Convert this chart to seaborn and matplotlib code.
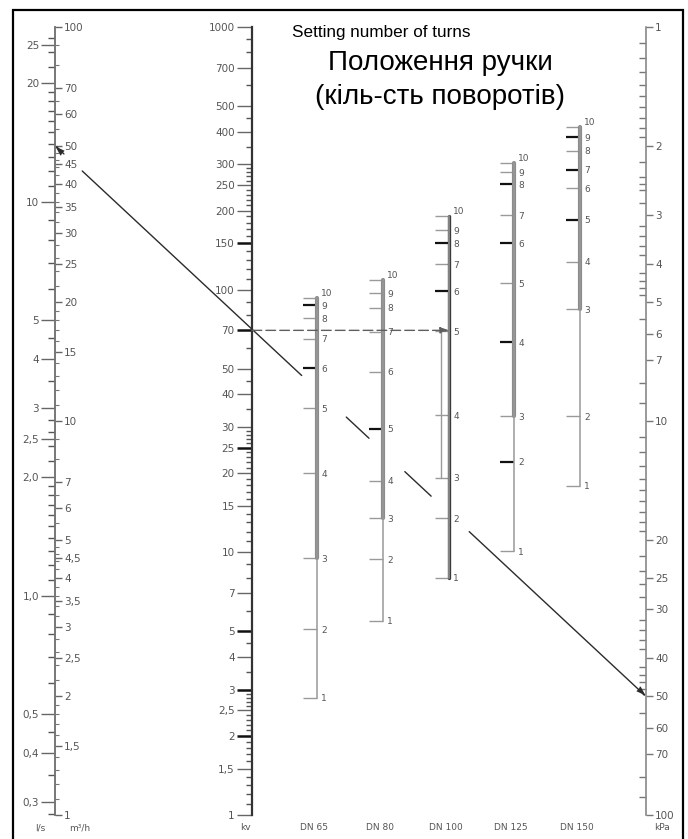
import seaborn as sns
import matplotlib.pyplot as plt
from matplotlib.patches import ConnectionPatch, Rectangle
from matplotlib.ticker import LogLocator, NullFormatter, NullLocator

# ===============================
# 1. DATA
# ===============================
settings = [1, 2, 3, 4, 5, 6, 7, 8, 9, 10]

# kv (m3/h) at each handle setting, per valve size
kv_dn65 = [2.8, 5.1, 9.5, 20.0, 35.4, 50.3, 64.9, 78.0, 87.4, 92.9]
kv_dn80 = [5.5, 9.4, 13.5, 18.7, 29.5, 48.6, 69.0, 85.2, 97.1, 108.8]
kv_dn100 = [8.0, 13.5, 19.2, 33.3, 69.6, 98.8, 125.2, 150.5, 168.7, 190.7]
kv_dn125 = [10.1, 22.1, 33.0, 63.2, 106.0, 150.5, 192.4, 252.5, 280.5, 303.5]
kv_dn150 = [17.9, 33.0, 84.4, 127.5, 184.2, 243.8, 285.5, 337.3, 381.2, 416.2]

# flow scale
flow_ls = [25, 20, 10, 5, 4, 3, 2.5, 2, 1, 0.5, 0.4, 0.3]
flow_ls_labels = ["25", "20", "10", "5", "4", "3", "2,5", "2,0", "1,0", "0,5", "0,4", "0,3"]
flow_m3h = [100, 70, 60, 50, 45, 40, 35, 30, 25, 20, 15, 10, 7, 6, 5, 4.5, 4, 3.5, 3, 2.5, 2, 1.5, 1]
flow_m3h_labels = ["100", "70", "60", "50", "45", "40", "35", "30", "25", "20", "15", "10",
                   "7", "6", "5", "4,5", "4", "3,5", "3", "2,5", "2", "1,5", "1"]

# kv scale
kv_ticks = [1000, 700, 500, 400, 300, 250, 200, 150, 100, 70, 50, 40, 30, 25, 20, 15,
            10, 7, 5, 4, 3, 2.5, 2, 1.5, 1]
kv_labels = ["1000", "700", "500", "400", "300", "250", "200", "150", "100", "70", "50",
             "40", "30", "25", "20", "15", "10", "7", "5", "4", "3", "2,5", "2", "1,5", "1"]

# pressure drop scale
dp_ticks = [1, 2, 3, 4, 5, 6, 7, 10, 20, 25, 30, 40, 50, 60, 70, 100]

# worked example
ex_flow = 50    # m3/h
ex_kv = 70
ex_dp = 50      # kPa

# ===============================
# 2. STYLE / LAYOUT
# ===============================
sns.set_theme(style="ticks")
plt.rcParams["font.family"] = ["DejaVu Sans"]

W, H = 688, 839
TOP, BOT = 27, 815
NUM = "#555555"
GREY = "#8c8c8c"


def fx(px):
    return px / W


def fy(py):
    return 1 - py / H


fig = plt.figure(figsize=(W / 100, H / 100), dpi=100)
fig.patch.set_facecolor("white")


def column(x_px, side, width_px=30):
    left = x_px - width_px if side == "right" else x_px
    ax = fig.add_axes([fx(left), fy(BOT), fx(width_px), (BOT - TOP) / H])
    ax.patch.set_visible(False)
    for s in ax.spines.values():
        s.set_visible(False)
    ax.spines[side].set_visible(True)
    ax.set_xticks([])
    ax.set_yscale("log")
    if side == "right":
        ax.yaxis.tick_right()
    else:
        ax.yaxis.tick_left()
    ax.yaxis.set_minor_formatter(NullFormatter())
    ax.tick_params(axis="y", which="both", labelsize=7.5, labelcolor=NUM, pad=1.5)
    return ax


sub_fine = [1.1, 1.2, 1.3, 1.4, 1.6, 1.7, 1.8, 1.9, 2.2, 2.4, 2.6, 2.8,
            3.2, 3.4, 3.6, 3.8, 4.2, 4.4, 4.6, 4.8, 5.5, 6.5, 8, 9]
sub_kv = [1.1, 1.2, 1.3, 1.4, 1.6, 1.7, 1.8, 1.9, 2.1, 2.2, 2.3, 2.4,
          2.6, 2.7, 2.8, 2.9, 3.5, 4.5, 6, 8, 9]
sub_ls = [1.1, 1.2, 1.3, 1.4, 1.5, 1.6, 1.7, 1.8, 1.9, 2.2, 2.4, 2.6, 2.8,
          3.5, 4.5, 6, 7, 8, 9]
sub_dp = [1.1, 1.2, 1.3, 1.4, 1.5, 1.6, 1.7, 1.8, 1.9, 2.2, 2.4, 2.5, 2.6, 2.8,
          3.2, 3.4, 3.6, 3.8, 4.2, 4.4, 4.6, 4.8, 5.5, 8, 9]

# ===============================
# 3. FLOW SCALE (m3/h right, l/s left)
# ===============================
ax_m3 = column(55, "right")
ax_m3.set_xlim(0, 1)
ax_m3.set_ylim(1, 100)
ax_m3.spines["right"].set_color("#777777")
ax_m3.spines["right"].set_linewidth(1.2)
ax_m3.set_yticks(flow_m3h, labels=flow_m3h_labels)
ax_m3.yaxis.set_minor_locator(LogLocator(base=10, subs=sub_fine))
ax_m3.tick_params(axis="y", which="major", direction="out", length=5, width=1, color="#666666")
ax_m3.tick_params(axis="y", which="minor", direction="out", length=3, width=0.8, color="#777777")

ax_ls = column(55, "left")
ax_ls.set_xlim(0, 1)
ax_ls.set_ylim(1 / 3.6, 100 / 3.6)
ax_ls.spines["left"].set_color("#777777")
ax_ls.spines["left"].set_linewidth(1.2)
ax_ls.set_yticks(flow_ls, labels=flow_ls_labels)
ax_ls.yaxis.set_minor_locator(LogLocator(base=10, subs=sub_ls))
ax_ls.tick_params(axis="y", which="major", direction="out", length=10, width=1, color="#666666")
ax_ls.tick_params(axis="y", which="minor", direction="out", length=5, width=1, color="#555555")

# ===============================
# 4. KV SCALE
# ===============================
ax_kv = column(252, "left")
ax_kv.set_xlim(0, 1)
ax_kv.set_ylim(1, 1000)
ax_kv.spines["left"].set_color("#333333")
ax_kv.spines["left"].set_linewidth(1.6)
ax_kv.set_yticks(kv_ticks, labels=kv_labels)
ax_kv.yaxis.set_minor_locator(LogLocator(base=10, subs=sub_kv))
ax_kv.tick_params(axis="y", which="major", direction="out", length=11, width=1, color="#666666")
ax_kv.tick_params(axis="y", which="minor", direction="out", length=4, width=1, color="#555555")
for val, t in zip(kv_ticks, ax_kv.yaxis.get_major_ticks()):
    if val in (150, 70, 25, 5, 3, 2):
        t.tick1line.set_markeredgecolor("#111111")
        t.tick1line.set_markeredgewidth(1.8)

# ===============================
# 5. VALVE SETTING SCALES
# ===============================
valves = [
    ("DN 65", 317, kv_dn65, 2, [9, 6]),
    ("DN 80", 383, kv_dn80, 2, [5]),
    ("DN 100", 449, kv_dn100, 0, [8, 6]),
    ("DN 125", 514, kv_dn125, 2, [8, 6, 4, 2]),
    ("DN 150", 580, kv_dn150, 2, [9, 7, 5]),
]
dn_axes = {}
for name, xpx, kv, thick_from, bold in valves:
    ax = column(xpx, "right", width_px=20)
    ax.set_xlim(0, 1)
    ax.spines["right"].set_bounds(kv[0], kv[-1])
    ax.spines["right"].set_color("#999999")
    ax.spines["right"].set_linewidth(1.1)
    sns.lineplot(x=[1.0, 1.0], y=[kv[thick_from], kv[-1]], ax=ax, orient="y",
                 estimator=None, color="#3a3a3a" if name == "DN 100" else GREY,
                 linewidth=3 if name != "DN 100" else 2.4, clip_on=False)
    ax.set_ylim(1, 1000)
    ax.set_yticks(kv, labels=[str(s) for s in settings])
    ax.yaxis.set_minor_locator(NullLocator())
    ax.tick_params(axis="y", which="major", direction="in", length=10, width=1,
                   color="#9a9a9a", labelsize=6.5, pad=3)
    ticks = ax.yaxis.get_major_ticks()
    for s, t in zip(settings, ticks):
        if s in bold:
            t.tick2line.set_markeredgecolor("#111111")
            t.tick2line.set_markeredgewidth(1.6)
    # the top "10" sits just above its tick, as on the printed chart
    ticks[-1].label2.set_verticalalignment("bottom")
    ax.set_xlabel("")
    ax.set_ylabel("")
    dn_axes[name] = ax
    fig.text(fx(xpx - 3), fy(828), name, ha="center", va="center", fontsize=6.5, color=NUM)

# inner bracket on DN 100 between settings 3 and 5
ax100 = dn_axes["DN 100"]
ax100.plot([0.62, 0.62], [kv_dn100[2], kv_dn100[4]], color="#9a9a9a", lw=1, clip_on=False)

# ===============================
# 6. PRESSURE DROP SCALE
# ===============================
ax_dp = column(646, "right")
ax_dp.set_xlim(0, 1)
ax_dp.set_ylim(100, 1)
ax_dp.spines["right"].set_color("#888888")
ax_dp.spines["right"].set_linewidth(1.2)
ax_dp.set_yticks(dp_ticks, labels=[str(v) for v in dp_ticks])
ax_dp.yaxis.set_minor_locator(LogLocator(base=10, subs=sub_dp))
ax_dp.tick_params(axis="y", which="major", direction="out", length=5, width=1, color="#777777")
ax_dp.tick_params(axis="y", which="minor", direction="in", length=5, width=1, color="#777777")

# ===============================
# 7. WORKED EXAMPLE LINES
# ===============================
pt = 0.72  # points per pixel
solution = ConnectionPatch(
    xyA=(1, ex_flow), coordsA=ax_m3.transData,
    xyB=(1, ex_dp), coordsB=ax_dp.transData,
    arrowstyle="<|-|>,head_length=0.6,head_width=0.2",
    color="#2b2b2b", lw=1.0,
    linestyle=(0, (10 * pt, 25 * pt, 300 * pt, 61 * pt, 31 * pt, 49 * pt,
                   36 * pt, 52 * pt, 260 * pt, 5 * pt)),
)
fig.add_artist(solution)

kv_line = ConnectionPatch(
    xyA=(0, ex_kv), coordsA=ax_kv.transData,
    xyB=(1, ex_kv), coordsB=ax100.transData,
    arrowstyle="-|>,head_length=0.5,head_width=0.18",
    color="#5e5e5e", lw=1, linestyle=(0, (7, 3)),
)
fig.add_artist(kv_line)

# ===============================
# 8. TEXT AND FRAME
# ===============================
fig.text(fx(40), fy(828), "l/s", ha="center", va="center", fontsize=6.5, color=NUM)
fig.text(fx(80), fy(828), "m³/h", ha="center", va="center", fontsize=6.5, color=NUM)
fig.text(fx(245), fy(828), "kv", ha="center", va="center", fontsize=6.5, color=NUM)
fig.text(fx(662), fy(828), "kPa", ha="center", va="center", fontsize=6.5, color=NUM)

title_font = ["Liberation Sans", "DejaVu Sans"]
fig.text(fx(292), fy(33), "Setting number of turns", ha="left", va="center",
         fontsize=12.3, family=title_font, color="black")
fig.text(fx(440), fy(63), "Положення ручки", ha="center", va="center",
         fontsize=20, family=title_font, color="black")
fig.text(fx(440), fy(97), "(кіль-сть поворотів)", ha="center", va="center",
         fontsize=20, family=title_font, color="black")

fig.add_artist(Rectangle((fx(13), -0.05), fx(670), fy(10) + 0.05,
                         transform=fig.transFigure, fill=False, lw=1.6, ec="black"))

fig.savefig("out.png", dpi=100)
